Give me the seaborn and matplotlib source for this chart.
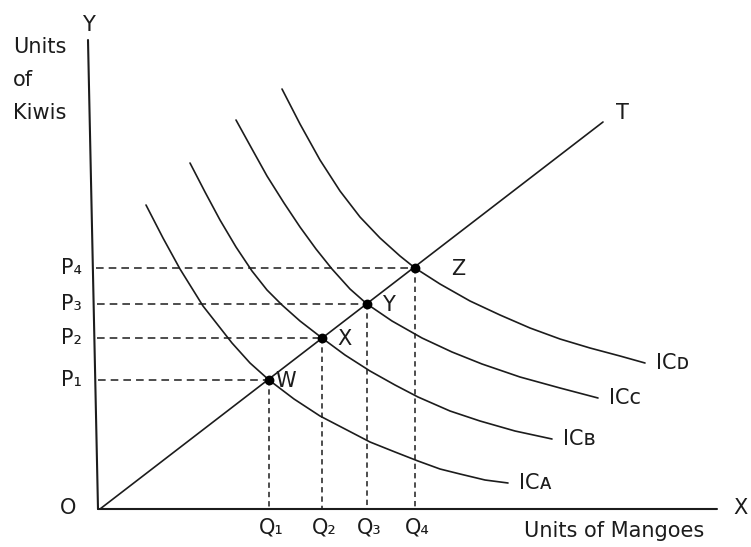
import numpy as np
import pandas as pd
import matplotlib
matplotlib.use("Agg")
import matplotlib.pyplot as plt
import seaborn as sns

# diagram units (origin O at the corner of the axes)
ic_a_x = [46, 63, 80, 103, 132, 150, 169, 194, 220, 245, 270, 295, 318, 340, 360, 385, 408]
ic_a_y = [304, 271, 240, 203, 166, 146, 129, 110, 93, 80, 67, 57, 48, 40, 35, 29, 26]
ic_b_x = [90, 105, 120, 136, 152, 167, 182, 200, 222, 245, 270, 295, 318, 350, 380, 415, 452]
ic_b_y = [346, 317, 289, 262, 238, 219, 204, 188, 171, 154, 138, 124, 112, 98, 88, 78, 70]
ic_c_x = [136, 152, 167, 184, 200, 216, 232, 250, 267, 292, 322, 352, 382, 420, 460, 498]
ic_c_y = [389, 360, 333, 306, 282, 260, 240, 220, 205, 188, 171, 157, 145, 132, 121, 111]
ic_d_x = [182, 200, 220, 240, 260, 280, 300, 315, 340, 370, 400, 430, 460, 490, 520, 545]
ic_d_y = [420, 385, 349, 318, 292, 271, 253, 241, 225, 208, 194, 181, 170, 161, 153, 146]
ic_labels = ["ICᴀ", "ICʙ", "ICᴄ", "ICᴅ"]

# expansion path T and the equilibrium points
t_x = [0, 503]
t_y = [0, 387]
pt_names = ["W", "X", "Y", "Z"]
pt_x = [169, 222, 267, 315]
pt_y = [129, 171, 205, 241]
q_labels = ["Q₁", "Q₂", "Q₃", "Q₄"]
p_labels = ["P₁", "P₂", "P₃", "P₄"]

# axes
yaxis_x = [-2, -12]
yaxis_y = [0, 469]
xaxis_x = [-2, 617]
xaxis_y = [0, 0]


def yaxis_at(y):
    return yaxis_x[0] + (yaxis_x[1] - yaxis_x[0]) * y / yaxis_y[1]


sns.set_style("white")
plt.rcParams['font.family'] = ['DejaVu Sans']
ink = "#1c1c1c"
fs = 15

fig = plt.figure(figsize=(7.51, 5.47), dpi=100)
ax = fig.add_axes([0, 0, 1, 1])
ax.set_xlim(-100, 651)
ax.set_ylim(-38, 509)
ax.axis("off")

# dashed guides
for x, y in zip(pt_x, pt_y):
    sns.lineplot(x=[yaxis_at(y) + 3, x], y=[y, y], ax=ax, color=ink, lw=1.1,
                 linestyle=(0, (5, 3.3)), sort=False, estimator=None)
    sns.lineplot(x=[x, x], y=[y, 0], ax=ax, color=ink, lw=1.1,
                 linestyle=(0, (3.5, 2.6)), sort=False, estimator=None)

# axes lines
sns.lineplot(x=yaxis_x, y=yaxis_y, ax=ax, color=ink, lw=1.5, sort=False, estimator=None)
sns.lineplot(x=xaxis_x, y=xaxis_y, ax=ax, color=ink, lw=1.5, sort=False, estimator=None)

# indifference curves
curves = [(ic_a_x, ic_a_y), (ic_b_x, ic_b_y), (ic_c_x, ic_c_y), (ic_d_x, ic_d_y)]
for (cx, cy), lab in zip(curves, ic_labels):
    sns.lineplot(x=cx, y=cy, ax=ax, color=ink, lw=1.2, sort=False, estimator=None)
    ax.text(cx[-1] + 11, cy[-1], lab, fontsize=fs, color=ink, ha="left", va="center")

# T line
sns.lineplot(x=t_x, y=t_y, ax=ax, color=ink, lw=1.2, sort=False, estimator=None)
ax.text(t_x[-1] + 19, t_y[-1] + 9, "T", fontsize=fs, color=ink, ha="center", va="center")

# points
pts = pd.DataFrame({"x": pt_x, "y": pt_y, "name": pt_names})
sns.scatterplot(data=pts, x="x", y="y", ax=ax, color="black", s=50, zorder=5, linewidth=0)
offsets = [17, 22, 21, 43]
for (x, y, n), dx in zip(zip(pt_x, pt_y, pt_names), offsets):
    ax.text(x + dx, y - 1, n, fontsize=fs, color=ink, ha="center", va="center")

for x, q in zip(pt_x, q_labels):
    ax.text(x + 2, -19, q, fontsize=fs, color=ink, ha="center", va="center")
for y, p in zip(pt_y, p_labels):
    ax.text(-18, y, p, fontsize=fs, color=ink, ha="right", va="center")

ax.text(-12, 484, "Y", fontsize=fs, color=ink, ha="center", va="center")
ax.text(640, 1, "X", fontsize=fs, color=ink, ha="center", va="center")
ax.text(-32, 1, "O", fontsize=fs, color=ink, ha="center", va="center")
ax.text(-87, 429, "Units\nof\nKiwis", fontsize=fs, color=ink, ha="left", va="center",
        linespacing=1.8)
ax.text(514, -22, "Units of Mangoes", fontsize=fs, color=ink, ha="center", va="center")

fig.savefig("out.png", dpi=100)
